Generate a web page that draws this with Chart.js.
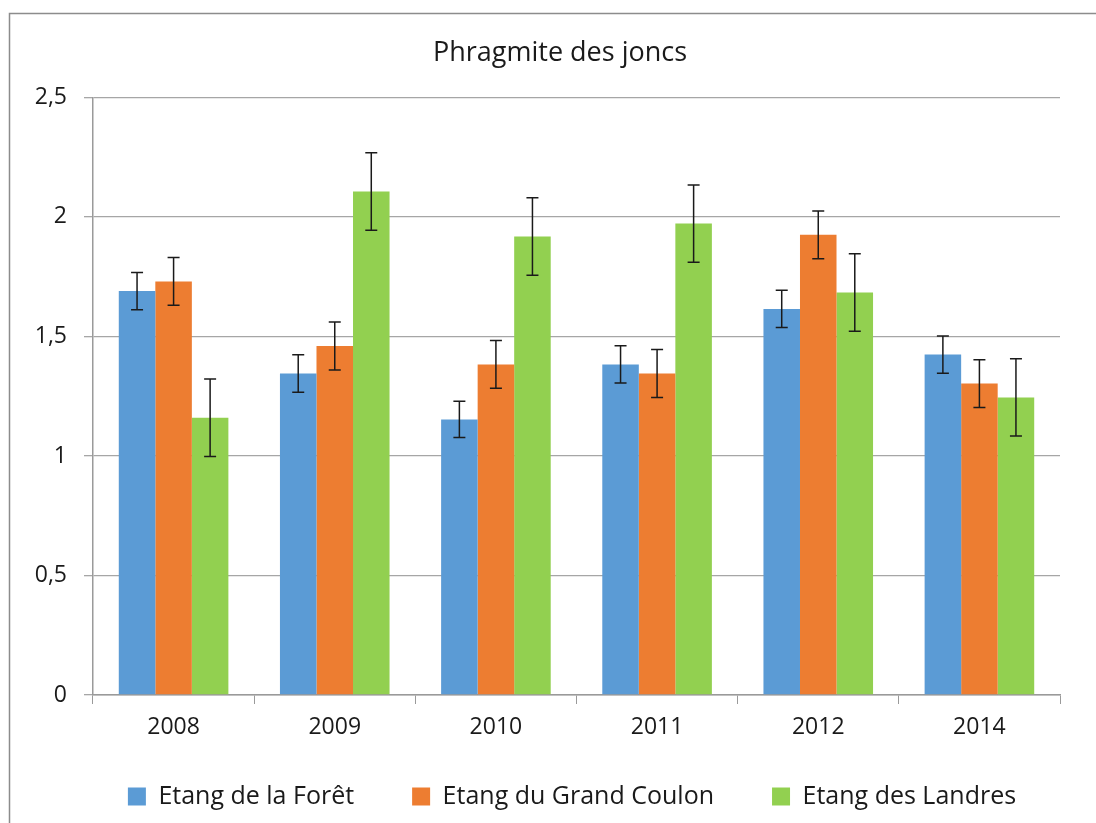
<!DOCTYPE html>
<html>
<head>
<meta charset="utf-8">
<script src="https://cdn.jsdelivr.net/npm/chart.js@4/dist/chart.umd.min.js"></script>
<style>
html,body{margin:0;padding:0;background:#fff;}
#wrap{position:absolute;left:0;top:0;width:1096px;height:823px;}
</style>
</head>
<body>
<div id="wrap"><canvas id="c" width="1096" height="823"></canvas></div>
<script>
const title = "Phragmite des joncs";
const categories = ["2008", "2009", "2010", "2011", "2012", "2014"];
const seriesNames = ["Etang de la Forêt", "Etang du Grand Coulon", "Etang des Landres"];
const foret = [1.69, 1.345, 1.153, 1.383, 1.615, 1.424];
const grandCoulon = [1.73, 1.46, 1.383, 1.345, 1.925, 1.303];
const landres = [1.16, 2.106, 1.918, 1.972, 1.684, 1.245];
const foretErr = [0.078, 0.078, 0.076, 0.078, 0.078, 0.078];
const grandCoulonErr = [0.10, 0.10, 0.10, 0.10, 0.10, 0.10];
const landresErr = [0.162, 0.162, 0.162, 0.162, 0.162, 0.162];
const yTicks = [0, 0.5, 1, 1.5, 2, 2.5];
const colors = ["#5B9BD5", "#ED7D31", "#92D050"];

const FONT = "'Open Sans', 'Liberation Sans', sans-serif";

const errorBars = {
  id: 'errorBars',
  afterDatasetsDraw(chart) {
    const ctx = chart.ctx;
    const y = chart.scales.y;
    ctx.save();
    ctx.strokeStyle = '#1a1a1a';
    ctx.lineWidth = 1.5;
    chart.data.datasets.forEach((ds, i) => {
      const meta = chart.getDatasetMeta(i);
      meta.data.forEach((bar, j) => {
        const v = ds.data[j], e = ds.errors[j];
        const yt = y.getPixelForValue(v + e), yb = y.getPixelForValue(v - e);
        const x = bar.x, cw = 6;
        ctx.beginPath();
        ctx.moveTo(x, yt); ctx.lineTo(x, yb);
        ctx.moveTo(x - cw, yt); ctx.lineTo(x + cw, yt);
        ctx.moveTo(x - cw, yb); ctx.lineTo(x + cw, yb);
        ctx.stroke();
      });
    });
    ctx.restore();
  }
};

const frame = {
  id: 'frame',
  beforeDraw(chart) {
    const ctx = chart.ctx;
    ctx.save();
    ctx.fillStyle = '#fff';
    ctx.fillRect(0, 0, chart.width, chart.height);
    ctx.strokeStyle = '#8c8c8c';
    ctx.lineWidth = 1.5;
    ctx.strokeRect(9.5, 13.5, chart.width + 20, chart.height + 20);
    ctx.restore();
  }
};

// centre title and legend on the chart frame (which extends beyond the page on the right)
const recentre = {
  id: 'recentre',
  afterLayout(chart) {
    if (chart.titleBlock) { chart.titleBlock.left += 20; chart.titleBlock.right += 20; }
    if (chart.legend) { chart.legend.left += 32; chart.legend.right += 32; }
  }
};

const LEGEND_PAD = 58;

new Chart(document.getElementById('c'), {
  type: 'bar',
  data: {
    labels: categories,
    datasets: [
      { label: seriesNames[0], data: foret, errors: foretErr, backgroundColor: colors[0] },
      { label: seriesNames[1], data: grandCoulon, errors: grandCoulonErr, backgroundColor: colors[1] },
      { label: seriesNames[2], data: landres, errors: landresErr, backgroundColor: colors[2] }
    ]
  },
  options: {
    responsive: false,
    animation: false,
    devicePixelRatio: 1,
    layout: { padding: { left: 20, right: 36, top: 0, bottom: 4 } },
    datasets: { bar: { categoryPercentage: 0.68, barPercentage: 1.0 } },
    plugins: {
      title: {
        display: true, text: title, color: '#1a1a1a',
        font: { family: FONT, size: 27, weight: 'normal' },
        padding: { top: 37, bottom: 28 }
      },
      legend: {
        position: 'bottom',
        title: { display: true, text: '', font: { size: 1 }, padding: { top: 0, bottom: -20.2 } },
        labels: {
          color: '#1a1a1a',
          font: { family: FONT, size: 25 },
          boxWidth: 18, boxHeight: 18, padding: LEGEND_PAD
        }
      },
      tooltip: { enabled: false }
    },
    scales: {
      x: {
        grid: { display: true, drawOnChartArea: false, drawTicks: true, tickLength: 9, color: '#9a9a9a', offset: true },
        border: { color: '#9a9a9a', width: 1.5 },
        ticks: { color: '#1a1a1a', font: { family: FONT, size: 23 }, padding: 10 },
        afterFit(s) { s.height = 50; }
      },
      y: {
        min: 0, max: 2.5,
        afterBuildTicks(s) { s.ticks = yTicks.map(v => ({ value: v })); },
        grid: { color: '#a6a6a6', lineWidth: 1.3, tickLength: 9 },
        border: { color: '#9a9a9a', width: 1.5 },
        ticks: {
          color: '#1a1a1a', font: { family: FONT, size: 23 }, padding: 17,
          callback: v => String(v).replace('.', ',')
        },
        afterFit(s) { s.width = 73; }
      }
    }
  },
  plugins: [frame, recentre, errorBars]
});
</script>
</body>
</html>
